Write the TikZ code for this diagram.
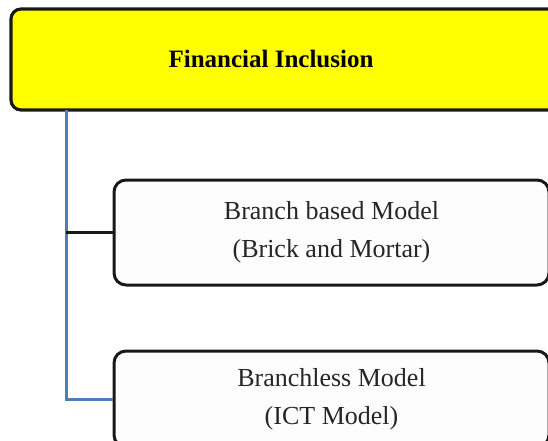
\documentclass[tikz,border=0pt]{standalone}
\usepackage{fontspec}
\setmainfont{Liberation Serif}
\definecolor{spineblue}{HTML}{4F7DB8}
\definecolor{boxfill}{HTML}{FDFDFD}
\definecolor{rootfill}{HTML}{FFFF00}
\begin{document}
\begin{tikzpicture}[x=1pt,y=-1pt,
  rootbox/.style={draw=black!90, line width=3.2pt, fill=rootfill,
    rounded corners=10pt, inner sep=0pt},
  modelbox/.style={draw=black!90, line width=3pt, fill=boxfill,
    rounded corners=12pt, inner sep=0pt, align=center,
    text=black!85, font=\fontsize{26}{38}\selectfont},
  link/.style={line width=3pt}]
  \useasboundingbox (0,0) rectangle (548,441);
  \clip (0,0) rectangle (548,441);
  % root box (runs on past the right edge)
  \node[rootbox, minimum width=560pt, minimum height=101pt] (fin) at (291,59.5) {};
  \node[font=\bfseries\fontsize{25}{30}\selectfont] (fintext) at (271,59) {Financial Inclusion};
  % model boxes
  \node[modelbox, minimum width=435pt, minimum height=105pt] (brick) at (331.5,232.5)
    {Branch based Model\\(Brick and Mortar)};
  \node[modelbox, minimum width=435pt, minimum height=96pt] (ict) at (331.5,399)
    {Branchless Model\\(ICT Model)};
  % connectors
  \coordinate (spine) at (66,110);
  \draw[link, spineblue] (spine) |- (ict.west);
  \draw[link, black!90] (spine |- brick.west) -- (brick.west);
\end{tikzpicture}
\end{document}
